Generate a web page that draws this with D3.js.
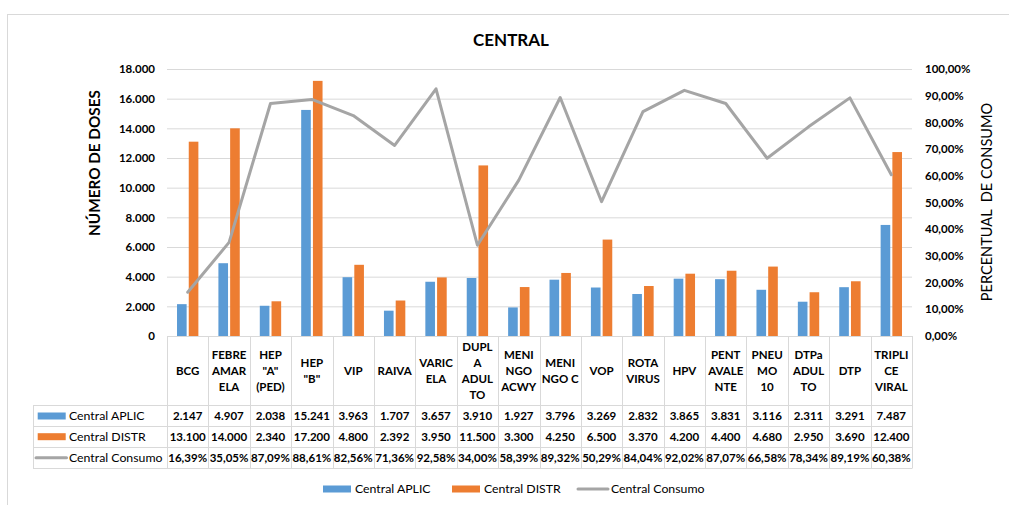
<!DOCTYPE html>
<html><head><meta charset="utf-8">
<script src="https://cdn.jsdelivr.net/npm/d3@7"></script>
<style>
html,body{margin:0;padding:0;background:#fff;}
svg{display:block;font-family:Lato,"Open Sans",sans-serif;}
</style></head>
<body>
<svg id="chart" width="1009" height="505"></svg>
<script>
// ---- data ----
const categories = [
  ["BCG"], ["FEBRE","AMAR","ELA"], ["HEP","\"A\"","(PED)"], ["HEP","\"B\""], ["VIP"], ["RAIVA"],
  ["VARIC","ELA"], ["DUPL","A","ADUL","TO"], ["MENI","NGO","ACWY"], ["MENI","NGO C"], ["VOP"],
  ["ROTA","VIRUS"], ["HPV"], ["PENT","AVALE","NTE"], ["PNEU","MO","10"], ["DTPa","ADUL","TO"],
  ["DTP"], ["TRIPLI","CE","VIRAL"]
];
const aplic = [2147,4907,2038,15241,3963,1707,3657,3910,1927,3796,3269,2832,3865,3831,3116,2311,3291,7487];
const distr = [13100,14000,2340,17200,4800,2392,3950,11500,3300,4250,6500,3370,4200,4400,4680,2950,3690,12400];
const consumo = [0.1639,0.3505,0.8709,0.8861,0.8256,0.7136,0.9258,0.3400,0.5839,0.8932,0.5029,0.8404,0.9202,0.8707,0.6658,0.7834,0.8919,0.6038];
const leftTicks = [0,2000,4000,6000,8000,10000,12000,14000,16000,18000];
const rightTicks = [0,0.1,0.2,0.3,0.4,0.5,0.6,0.7,0.8,0.9,1.0];
const seriesNames = ["Central APLIC","Central DISTR","Central Consumo"];
const title = "CENTRAL";
const leftTitle = "NÚMERO DE DOSES";
const rightTitle = "PERCENTUAL  DE CONSUMO";

// ---- styles ----
const C_BLUE="#5B9BD5", C_ORANGE="#ED7D31", C_GRAY="#A5A5A5", C_GRID="#D9D9D9", C_TEXT="#000";
const loc = d3.formatLocale({decimal:",",thousands:".",grouping:[3],currency:["R$",""]});
const fInt = loc.format(",.0f"), fPct = loc.format(",.2%");

const svg = d3.select("#chart");
const L=167, R=912, T=69, B=336;

// outer border
svg.append("rect").attr("x",7.5).attr("y",14.5).attr("width",1010).attr("height",500)
  .attr("fill","none").attr("stroke",C_GRID);

const x = d3.scaleBand().domain(d3.range(categories.length)).range([L,R]);
const bw = x.bandwidth();
const xi = d3.scaleBand().domain([0,1]).range([bw*0.242, bw*0.758]).paddingInner(0.18);
const y = d3.scaleLinear().domain([0,18000]).range([B,T]);
const y2 = d3.scaleLinear().domain([0,1]).range([B,T]);

// gridlines
const grid = svg.append("g").attr("transform",`translate(${L},0)`)
  .call(d3.axisLeft(y).tickValues(leftTicks).tickSize(-(R-L)).tickFormat(""));
grid.select(".domain").remove();
grid.selectAll("line").attr("stroke",C_GRID).attr("stroke-width",1);

// left axis labels
const ax = svg.append("g").attr("transform",`translate(${L},0)`)
  .call(d3.axisLeft(y).tickValues(leftTicks).tickSize(0).tickPadding(12).tickFormat(d=>fInt(d)));
ax.select(".domain").remove();
ax.selectAll("text").attr("font-family","Lato").attr("font-size",11.5).attr("font-weight",700).attr("fill",C_TEXT);

// right axis labels
const ax2 = svg.append("g").attr("transform",`translate(${R},0)`)
  .call(d3.axisRight(y2).tickValues(rightTicks).tickSize(0).tickPadding(13).tickFormat(d=>fPct(d)));
ax2.select(".domain").remove();
ax2.selectAll("text").attr("font-family","Lato").attr("font-size",11.5).attr("font-weight",700).attr("fill",C_TEXT);

// bars
const barG = svg.append("g");
[[aplic,C_BLUE],[distr,C_ORANGE]].forEach(([vals,col],s)=>{
  barG.selectAll(null).data(vals).enter().append("rect")
    .attr("x",(d,i)=>x(i)+xi(s)).attr("width",xi.bandwidth())
    .attr("y",d=>y(d)).attr("height",d=>B-y(d)).attr("fill",col);
});

// line
const line = d3.line().x((d,i)=>x(i)+bw/2).y(d=>y2(d));
svg.append("path").datum(consumo).attr("d",line).attr("fill","none")
  .attr("stroke",C_GRAY).attr("stroke-width",3).attr("stroke-linejoin","round").attr("stroke-linecap","round");

// title
svg.append("text").attr("x",511).attr("y",40).attr("dy","0.35em").attr("text-anchor","middle")
  .attr("font-family","Lato").attr("font-size",17).attr("font-weight",700).attr("fill",C_TEXT).text(title);

// axis titles
svg.append("text").attr("transform","translate(95,163) rotate(-90)").attr("dy","0.35em")
  .attr("text-anchor","middle").attr("font-family","Lato").attr("font-size",15.3).attr("font-weight",700)
  .attr("fill",C_TEXT).text(leftTitle);
svg.append("text").attr("transform","translate(987,202) rotate(-90)").attr("dy","0.35em")
  .attr("text-anchor","middle").attr("font-family","Lato").attr("font-size",14.6).attr("font-weight",400)
  .attr("fill",C_TEXT).style("white-space","pre").text(rightTitle);

// data table
const rowLines = [405,426,447,468];
const tbl = svg.append("g");
// x axis / table top
tbl.append("line").attr("x1",L).attr("x2",R).attr("y1",B+0.5).attr("y2",B+0.5).attr("stroke",C_GRID);
rowLines.forEach(yy=>tbl.append("line").attr("x1",33).attr("x2",R).attr("y1",yy+0.5).attr("y2",yy+0.5).attr("stroke",C_GRID));
tbl.append("line").attr("x1",33.5).attr("x2",33.5).attr("y1",405).attr("y2",468.5).attr("stroke",C_GRID);
d3.range(categories.length+1).forEach(i=>{
  const xx = Math.round(L + i*bw)+0.5;
  tbl.append("line").attr("x1",xx).attr("x2",xx).attr("y1",B).attr("y2",468.5).attr("stroke",C_GRID);
});
// header
categories.forEach((lines,i)=>{
  const cx = x(i)+bw/2, lh=16, cy=371;
  const t = tbl.append("text").attr("text-anchor","middle").attr("font-family","Lato")
    .attr("font-size",11.5).attr("font-weight",700).attr("fill",C_TEXT);
  lines.forEach((ln,j)=>{
    t.append("tspan").attr("x",cx).attr("y",cy+(j-(lines.length-1)/2)*lh).attr("dy","0.35em").text(ln);
  });
});
// rows
const rows = [[aplic,fInt],[distr,fInt],[consumo,fPct]];
const rowCY = [416,436.7,457.8];
rows.forEach(([vals,fmt],r)=>{
  tbl.selectAll(null).data(vals).enter().append("text")
    .attr("x",(d,i)=>x(i)+bw/2).attr("y",rowCY[r]).attr("dy","0.35em").attr("text-anchor","middle")
    .attr("font-family","Lato").attr("font-size",11.5).attr("font-weight",700).attr("fill",C_TEXT)
    .text(d=>fmt(d));
});
// row labels with keys
const colors=[C_BLUE,C_ORANGE,C_GRAY];
seriesNames.forEach((n,r)=>{
  if(r<2) tbl.append("rect").attr("x",37.7).attr("y",rowCY[r]-3.5).attr("width",28).attr("height",7).attr("fill",colors[r]);
  else tbl.append("line").attr("x1",36).attr("x2",66.5).attr("y1",rowCY[r]).attr("y2",rowCY[r]).attr("stroke",colors[r]).attr("stroke-width",3).attr("stroke-linecap","round");
  tbl.append("text").attr("x",69).attr("y",rowCY[r]).attr("dy","0.35em").attr("font-family","Lato")
    .attr("font-size",12.3).attr("fill",C_TEXT).text(n);
});

// legend
const legX=[323,452,578], legY=489;
seriesNames.forEach((n,r)=>{
  const g = svg.append("g");
  if(r<2) g.append("rect").attr("x",legX[r]).attr("y",legY-3.5).attr("width",28).attr("height",7).attr("fill",colors[r]);
  else g.append("line").attr("x1",legX[r]).attr("x2",legX[r]+30).attr("y1",legY).attr("y2",legY).attr("stroke",colors[r]).attr("stroke-width",3).attr("stroke-linecap","round");
  g.append("text").attr("x",legX[r]+(r<2?32:33)).attr("y",legY).attr("dy","0.35em").attr("font-family","Lato")
    .attr("font-size",12.3).attr("fill",C_TEXT).text(n);
});
</script>
</body></html>
